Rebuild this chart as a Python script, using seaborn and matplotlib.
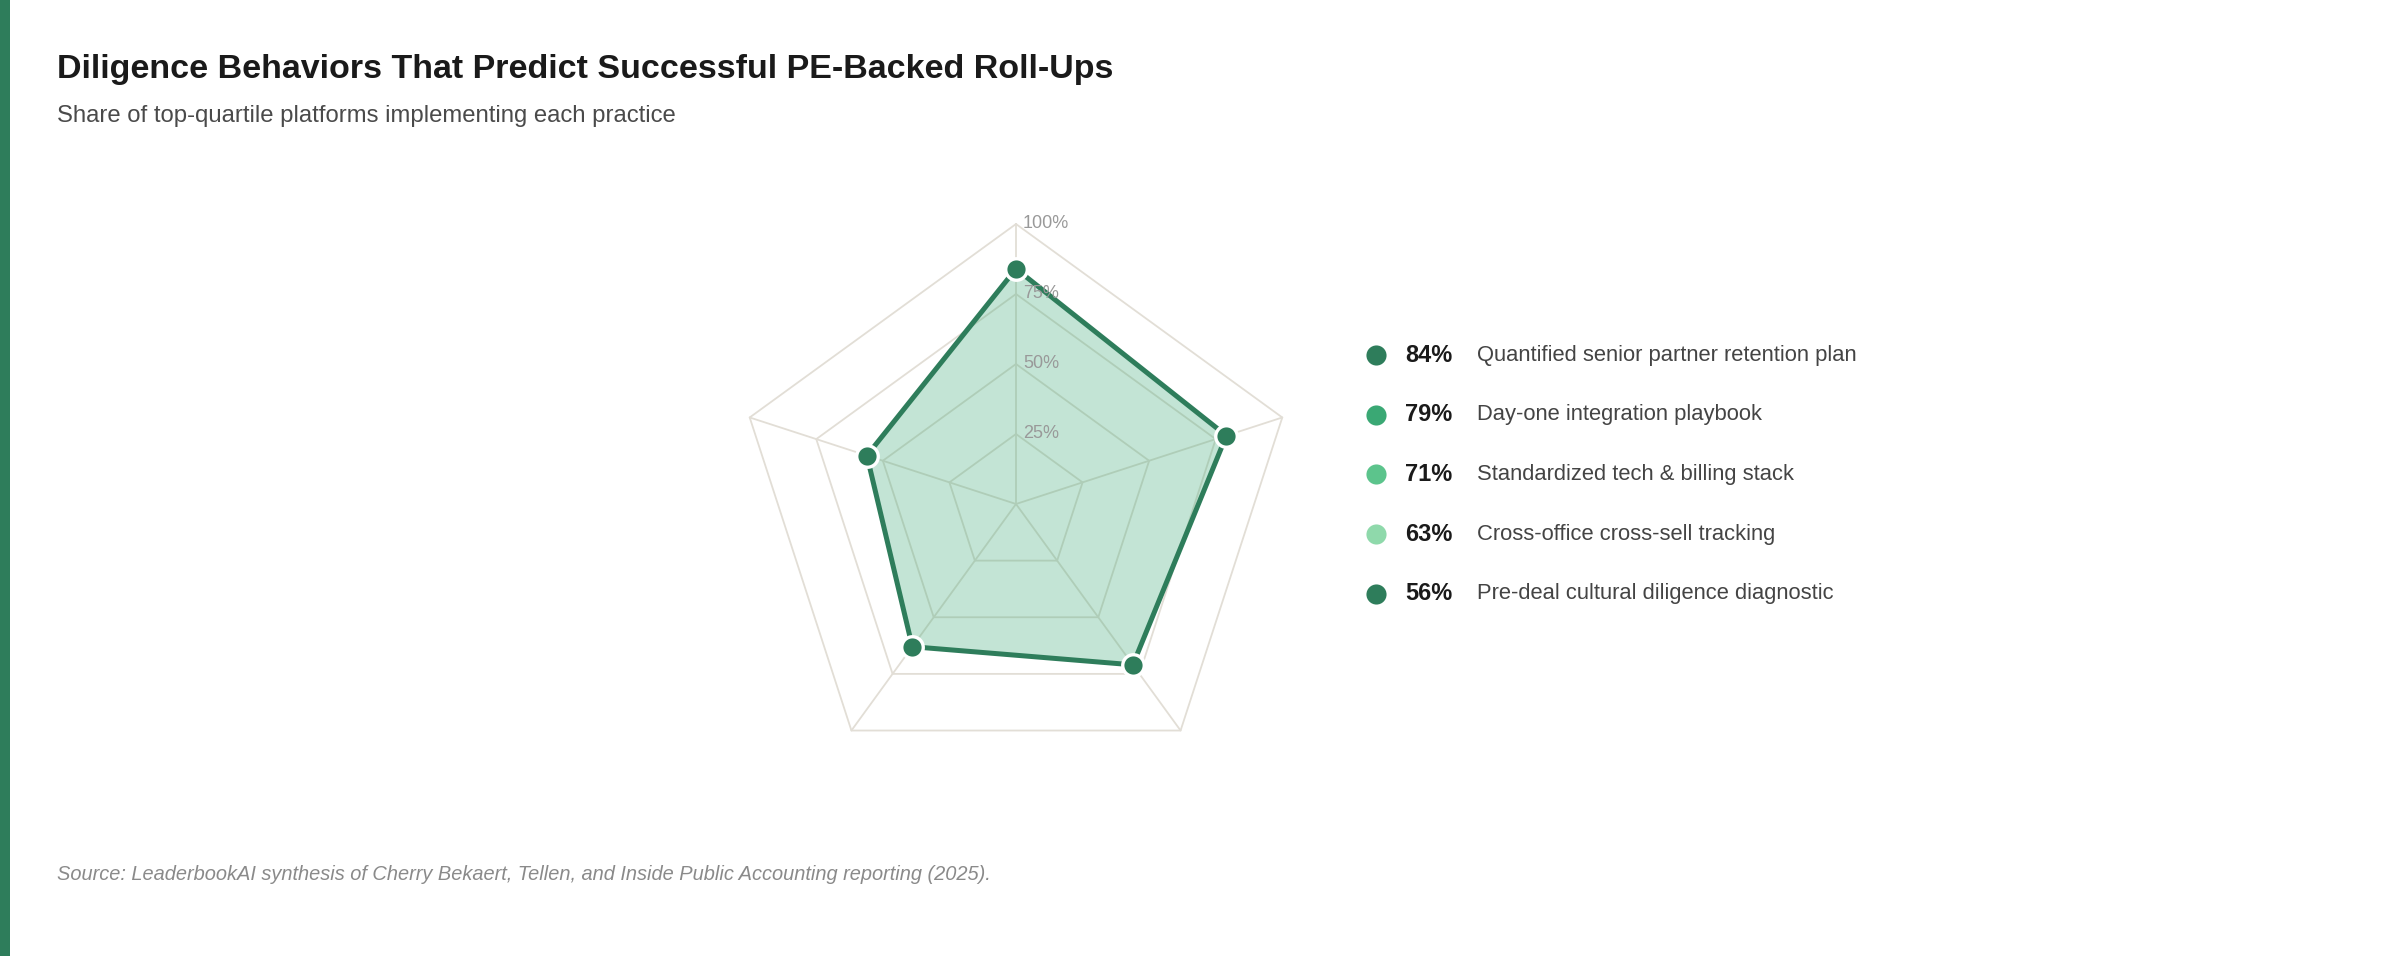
import numpy as np
import pandas as pd
import matplotlib
matplotlib.use("Agg")
import matplotlib.pyplot as plt
import seaborn as sns

practices = [
    "Quantified senior partner retention plan",
    "Day-one integration playbook",
    "Standardized tech & billing stack",
    "Cross-office cross-sell tracking",
    "Pre-deal cultural diligence diagnostic",
]
shares = [84, 79, 71, 63, 56]
dot_colors = ["#2e7d5b", "#3aa874", "#5cc48c", "#8fd9ab", "#2e7d5b"]
ring_levels = [25, 50, 75, 100]
ring_labels = ["25%", "50%", "75%", "100%"]

title = "Diligence Behaviors That Predict Successful PE-Backed Roll-Ups"
subtitle = "Share of top-quartile platforms implementing each practice"
source = ("Source: LeaderbookAI synthesis of Cherry Bekaert, Tellen, and "
          "Inside Public Accounting reporting (2025).")

sns.set_theme(style="white")
plt.rcParams["font.family"] = ["Liberation Sans", "DejaVu Sans"]

W, H = 2400, 956
fig = plt.figure(figsize=(W / 100, H / 100), dpi=100)
fig.patch.set_facecolor("white")

# overlay axes in pixel coordinates for text, legend and accent bar
over = fig.add_axes([0, 0, 1, 1])
over.set_xlim(0, W)
over.set_ylim(H, 0)
over.axis("off")
over.add_patch(plt.Rectangle((0, 0), 10, H, color="#2e7d5b", lw=0))

over.text(57, 69, title, fontsize=24.5, fontweight="bold", color="#1a1a1a",
          va="center", ha="left")
over.text(57, 116, subtitle, fontsize=17.2, color="#4a4a4a", va="center")
over.text(57, 874, source, fontsize=14.4, style="italic", color="#8a8a8a", va="center")

# radar axes
cx, cy, R, lim = 1016, 504, 280, 1.25
side = 2 * R * lim
ax = fig.add_axes([(cx - side / 2) / W, (H - cy - side / 2) / H, side / W, side / H])

n = len(shares)
theta = np.pi / 2 - np.arange(n) * 2 * np.pi / n
ux, uy = np.cos(theta), np.sin(theta)

grid_c = "#e2ded6"
for lvl in ring_levels:
    f = lvl / 100
    ax.plot(np.append(ux, ux[0]) * f, np.append(uy, uy[0]) * f, color=grid_c, lw=1.3, zorder=1)
for x, y in zip(ux, uy):
    ax.plot([0, x], [0, y], color=grid_c, lw=1.3, zorder=1)

vals = np.array(shares) / 100
df = pd.DataFrame({"x": ux * vals, "y": uy * vals, "practice": practices})
closed = pd.concat([df, df.iloc[:1]], ignore_index=True)

ax.fill(closed["x"], closed["y"], color="#3aa874", alpha=0.3, lw=0, zorder=2)
sns.lineplot(data=closed, x="x", y="y", sort=False, estimator=None, color="#2e7d5b",
             lw=3.6, ax=ax, zorder=3)
sns.scatterplot(data=df, x="x", y="y", color="#2e7d5b", s=240, edgecolor="white",
                linewidth=2.4, ax=ax, zorder=4)
ax.set_xlim(-lim, lim)
ax.set_ylim(-lim, lim)
ax.set_aspect("equal")
ax.axis("off")

for lvl, lab in zip(ring_levels, ring_labels):
    ax.text(0.025, lvl / 100, lab, fontsize=13, color="#999999", va="center",
            ha="left", zorder=5)

# legend
row0, gap = 355, 59.7
for i, (p, v, c) in enumerate(zip(practices, shares, dot_colors)):
    y = row0 + i * gap
    over.scatter([1376], [y], s=210, color=c, lw=0)
    over.text(1405, y, f"{v}%", fontsize=17, fontweight="bold", color="#1a1a1a", va="center")
    over.text(1477, y, p, fontsize=15.8, color="#444444", va="center")

fig.savefig("out.png", dpi=100, facecolor="white")
